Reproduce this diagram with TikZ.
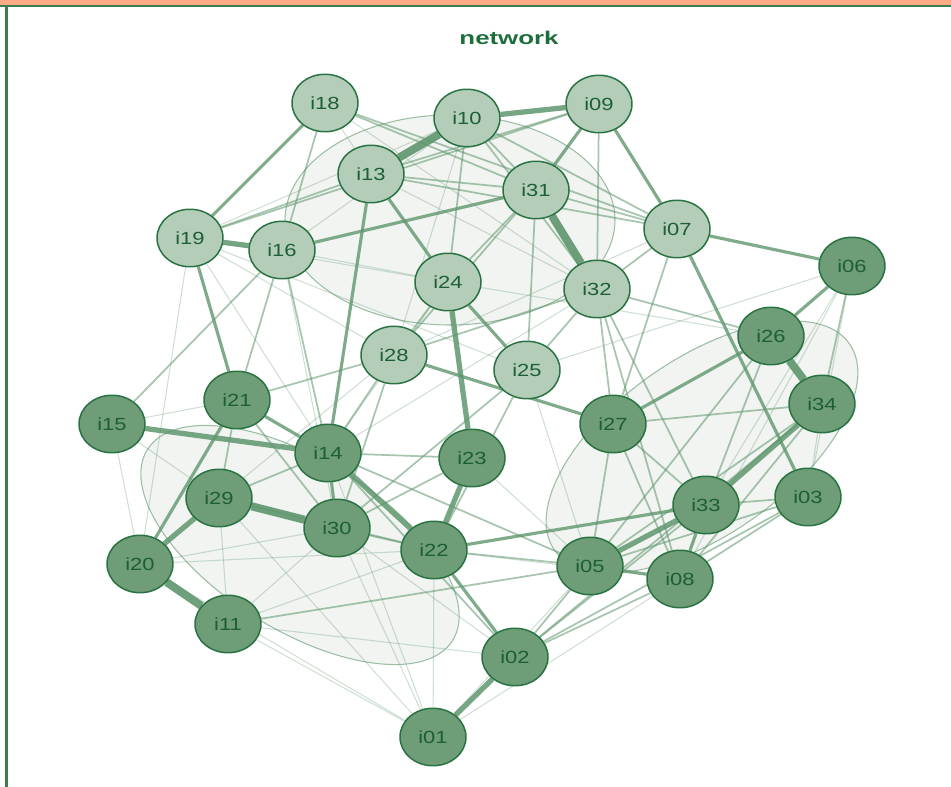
\documentclass[tikz,border=0pt]{standalone}
\usepackage{fontspec}
\setmainfont{Liberation Sans}
\newfontfamily\nodefont[FakeStretch=1.25]{Liberation Sans}
\newfontfamily\titlefont[FakeStretch=1.4]{Liberation Sans}
\usetikzlibrary{shapes.geometric}
\definecolor{barorange}{RGB}{255,172,134}
\definecolor{framegreen}{RGB}{62,125,80}
\definecolor{titlegreen}{RGB}{30,110,60}
\definecolor{litefill}{RGB}{180,205,184}
\definecolor{darkfill}{RGB}{110,157,120}
\definecolor{rimgreen}{RGB}{40,115,65}
\definecolor{textgreen}{RGB}{28,95,55}
\definecolor{edgegreen}{RGB}{95,150,110}
\definecolor{blobgray}{RGB}{236,240,236}
\pgfdeclarelayer{blobs}
\pgfdeclarelayer{edges}
\pgfsetlayers{blobs,edges,main}

\begin{document}
\begin{tikzpicture}[x=0.02cm, y=-0.02cm,
  item/.style={ellipse, draw=rimgreen, line width=0.85pt, minimum width=1.32cm, minimum height=1.15cm, inner sep=0pt, text=textgreen, font=\nodefont\fontsize{10}{12}\selectfont},
  lite/.style={item, fill=litefill},
  dark/.style={item, fill=darkfill},
  e heavy/.style={draw=edgegreen, line width=4.6pt, opacity=0.9},
  e strong/.style={draw=edgegreen, line width=3pt, opacity=0.85},
  e medium/.style={draw=edgegreen, line width=1.8pt, opacity=0.8},
  e slim/.style={draw=edgegreen, line width=1pt, opacity=0.55},
  e faint/.style={draw=edgegreen, line width=0.6pt, opacity=0.3},
  blob/.style={fill=blobgray, fill opacity=0.75, draw=edgegreen, draw opacity=0.6, line width=0.6pt}]
  \useasboundingbox (0,0) rectangle (951,787);
  \fill[barorange] (0,0) rectangle (951,5);
  \draw[framegreen, line width=1.4pt] (0,5.8) -- (951,5.8);
  \draw[framegreen, line width=1.4pt] (6.5,6) -- (6.5,787);
  \node[text=titlegreen, font=\titlefont\bfseries\fontsize{10.5}{12}\selectfont] (title) at (509,38) {network};

  \node[lite] (i18) at (325,103) {i18};
  \node[lite] (i10) at (467,118) {i10};
  \node[lite] (i09) at (599,104) {i09};
  \node[lite] (i13) at (371,174) {i13};
  \node[lite] (i31) at (536,190) {i31};
  \node[lite] (i07) at (677,229) {i07};
  \node[lite] (i19) at (190,238) {i19};
  \node[lite] (i16) at (282,250) {i16};
  \node[lite] (i24) at (448,282) {i24};
  \node[lite] (i32) at (597,289) {i32};
  \node[lite] (i28) at (394,355) {i28};
  \node[lite] (i25) at (527,370) {i25};
  \node[dark] (i06) at (852,266) {i06};
  \node[dark] (i26) at (771,336) {i26};
  \node[dark] (i34) at (822,404) {i34};
  \node[dark] (i21) at (237,400) {i21};
  \node[dark] (i15) at (112,424) {i15};
  \node[dark] (i27) at (613,424) {i27};
  \node[dark] (i14) at (328,453) {i14};
  \node[dark] (i23) at (472,458) {i23};
  \node[dark] (i29) at (219,498) {i29};
  \node[dark] (i30) at (337,528) {i30};
  \node[dark] (i33) at (706,505) {i33};
  \node[dark] (i03) at (808,497) {i03};
  \node[dark] (i22) at (434,550) {i22};
  \node[dark] (i05) at (590,566) {i05};
  \node[dark] (i08) at (680,579) {i08};
  \node[dark] (i20) at (140,564) {i20};
  \node[dark] (i11) at (228,624) {i11};
  \node[dark] (i02) at (515,657) {i02};
  \node[dark] (i01) at (433,737) {i01};

  \begin{pgfonlayer}{blobs}
    \draw[blob] (450,220) ellipse [x radius=165, y radius=105];
    \draw[blob, rotate around={-32:(300,545)}] (300,545) ellipse [x radius=180, y radius=85];
    \draw[blob, rotate around={35:(702,447)}] (702,447) ellipse [x radius=180, y radius=88];
  \end{pgfonlayer}

  \begin{pgfonlayer}{edges}
    \foreach \a/\b in {i18/i13, i18/i32, i19/i10, i13/i32, i19/i28, i19/i14, i19/i24, i19/i25, i19/i20, i16/i30,
      i24/i14, i28/i29, i25/i05, i32/i14, i06/i33, i06/i08, i06/i03, i06/i25, i26/i24, i34/i03, i08/i01, i29/i11,
      i30/i02, i30/i01, i30/i11, i20/i15, i20/i22, i20/i30, i11/i22, i11/i02, i11/i01, i01/i14, i01/i29, i01/i20,
      i01/i22, i01/i05, i15/i21, i15/i29, i22/i08, i10/i16, i07/i28, i23/i05, i16/i24, i10/i28}
      \draw[e faint] (\a) -- (\b);
    \foreach \a/\b in {i18/i16, i18/i07, i18/i31, i10/i31, i10/i07, i10/i32, i10/i24, i19/i09, i13/i19, i13/i31,
      i13/i07, i09/i13, i09/i32, i16/i21, i16/i14, i31/i07, i31/i24, i31/i28, i31/i25, i07/i27, i07/i32, i24/i28,
      i28/i21, i28/i14, i28/i30, i28/i32, i25/i30, i25/i22, i25/i32, i32/i27, i32/i33, i32/i08, i26/i33, i26/i05,
      i26/i32, i06/i34, i34/i27, i34/i05, i34/i08, i27/i33, i27/i05, i27/i08, i33/i03, i33/i02, i03/i05, i03/i08,
      i02/i03, i02/i34, i05/i22, i05/i14, i05/i02, i08/i02, i23/i14, i23/i30, i14/i29, i21/i29, i21/i30, i29/i22,
      i30/i22, i11/i05, i15/i16, i14/i02}
      \draw[e slim] (\a) -- (\b);
    \foreach \a/\b in {i18/i19, i09/i07, i16/i31, i13/i24, i09/i31, i07/i03, i07/i06, i06/i26, i28/i27, i21/i14,
      i21/i20, i22/i02, i22/i33, i25/i24, i19/i21, i13/i14, i26/i27, i33/i08, i05/i08, i14/i30}
      \draw[e medium] (\a) -- (\b);
    \foreach \a/\b in {i10/i09, i34/i33, i33/i05, i24/i23, i02/i01, i20/i29, i19/i16, i15/i14, i23/i22, i14/i22}
      \draw[e strong] (\a) -- (\b);
    \foreach \a/\b in {i13/i10, i31/i32, i20/i11, i29/i30, i26/i34}
      \draw[e heavy] (\a) -- (\b);
  \end{pgfonlayer}
\end{tikzpicture}
\end{document}
